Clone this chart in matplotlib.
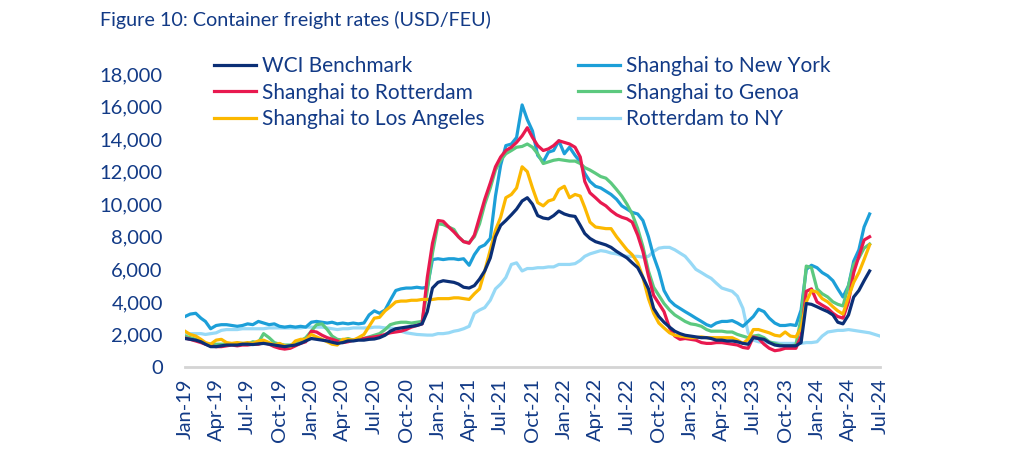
#!/usr/bin/env python3
"""Figure 10: Container freight rates (USD/FEU), semi-monthly readings Jan-19 to Jul-24."""

import matplotlib
matplotlib.use("Agg")
import matplotlib.pyplot as plt
import matplotlib.dates as mdates
import matplotlib.ticker as mticker
import numpy as np
import pandas as pd

plt.rcParams["font.family"] = ["Lato", "DejaVu Sans"]

# semi-monthly grid: 1st and 16th of each month, Jan-2019 .. Jul-2024
dates = []
for d in pd.date_range("2019-01-01", "2024-07-01", freq="MS"):
    dates.append(d)
    dates.append(d + pd.Timedelta(days=15))
dates = pd.DatetimeIndex(dates[:133])

nan = np.nan

wci = [
    1750, 1700, 1650, 1550, 1400, 1250, 1250, 1300, 1350, 1350,
    1350, 1400, 1400, 1380, 1420, 1450, 1400, 1350, 1300, 1250,
    1300, 1350, 1450, 1600, 1750, 1700, 1650, 1600, 1520, 1450,
    1500, 1600, 1600, 1650, 1650, 1700, 1720, 1800, 1950, 2200,
    2350, 2400, 2450, 2500, 2550, 2650, 3400, 4850, 5200, 5300,
    5250, 5200, 5100, 4900, 4850, 5000, 5400, 5900, 6700, 8000,
    8700, 9000, 9350, 9700, 10200, 10400, 10000, 9300, 9150, 9100,
    9300, 9580, 9400, 9300, 9250, 8700, 8200, 7900, 7700, 7600,
    7500, 7350, 7100, 6900, 6700, 6400, 6100, 5500, 4800, 3600,
    3100, 2750, 2450, 2200, 2050, 1950, 1900, 1850, 1800, 1800,
    1750, 1650, 1650, 1600, 1600, 1550, 1450, 1400, 1800, 1750,
    1700, 1500, 1350, 1300, 1300, 1300, 1300, 1500, 3900, 3850,
    3700, 3550, 3400, 3200, 2750, 2650, 3200, 4300, 4700, 5300,
    5900, nan, nan,
]

sh_ny = [
    3100, 3250, 3300, 3000, 2800, 2350, 2550, 2600, 2600, 2550,
    2500, 2550, 2650, 2600, 2800, 2700, 2600, 2650, 2500, 2450,
    2500, 2450, 2500, 2450, 2750, 2800, 2750, 2700, 2750, 2650,
    2700, 2650, 2700, 2650, 2700, 3200, 3450, 3300, 3500, 4100,
    4700, 4800, 4850, 4850, 4900, 4850, 4900, 6600, 6650, 6600,
    6650, 6650, 6600, 6650, 6250, 6900, 7350, 7500, 7900, 10500,
    12400, 13600, 13700, 14100, 16100, 15200, 14500, 13000, 12600, 13200,
    13300, 13900, 13100, 13500, 13000, 12600, 11900, 11400, 11100, 11000,
    10800, 10600, 10300, 9900, 9700, 9500, 9400, 9000, 8000, 6800,
    5900, 4700, 4100, 3800, 3600, 3400, 3200, 3000, 2800, 2600,
    2500, 2700, 2800, 2800, 2850, 2700, 2500, 2800, 3100, 3550,
    3400, 3000, 2700, 2550, 2550, 2600, 2550, 3500, 6000, 6250,
    6100, 5800, 5600, 5300, 4800, 4300, 5000, 6500, 7200, 8600,
    9400, nan, nan,
]

sh_rotterdam = [
    1780, 1700, 1600, 1500, 1400, 1300, 1250, 1250, 1300, 1350,
    1300, 1350, 1350, 1400, 1400, 1500, 1400, 1250, 1150, 1100,
    1150, 1300, 1450, 1550, 2200, 2150, 1950, 1800, 1700, 1600,
    1500, 1550, 1650, 1700, 1750, 1800, 1850, 1900, 2000, 2100,
    2150, 2200, 2300, 2450, 2550, 2650, 5500, 7600, 9000, 8950,
    8600, 8300, 8000, 7700, 7600, 8100, 9200, 10300, 11300, 12300,
    12900, 13300, 13500, 13800, 14200, 14700, 14100, 13600, 13300, 13400,
    13600, 13900, 13800, 13700, 13500, 12900, 11400, 10700, 10400, 10100,
    9900, 9600, 9350, 9200, 9100, 8900, 8100, 7100, 5600, 4400,
    3900, 3400, 2400, 1900, 1700, 1750, 1700, 1650, 1500, 1450,
    1450, 1500, 1500, 1450, 1400, 1350, 1200, 1150, 1850, 1750,
    1400, 1150, 1000, 1050, 1150, 1150, 1150, 1900, 4650, 4800,
    4000, 3800, 3600, 3300, 3100, 3000, 4000, 5800, 6800, 7800,
    8000, nan, nan,
]

sh_genoa = [
    1900, 1800, 1700, 1550, 1450, 1400, 1400, 1400, 1400, 1400,
    1450, 1450, 1400, 1550, 1500, 2050, 1800, 1500, 1400, 1350,
    1350, 1450, 1600, 1800, 2200, 2600, 2650, 2300, 1900, 1700,
    1650, 1750, 1650, 1700, 1750, 1850, 1950, 2050, 2300, 2600,
    2700, 2750, 2750, 2700, 2750, 2800, 4700, 7000, 8800, 8750,
    8600, 8450, 8000, 7700, 7650, 8000, 8800, 10000, 11000, 12100,
    12700, 13100, 13300, 13500, 13550, 13700, 13500, 13100, 12500, 12600,
    12700, 12750, 12700, 12650, 12650, 12500, 12250, 12100, 11900, 11700,
    11600, 11300, 10900, 10500, 10000, 9400, 8500, 7400, 5900, 4900,
    4400, 3900, 3500, 3200, 3000, 2800, 2650, 2600, 2500, 2300,
    2200, 2200, 2200, 2150, 2150, 2000, 1900, 1800, 1900, 1950,
    1800, 1550, 1450, 1350, 1300, 1300, 1350, 3000, 6200, 6100,
    4800, 4500, 4300, 4000, 3850, 3750, 5000, 6300, 6700, 7300,
    7550, nan, nan,
]

sh_la = [
    2200, 2000, 1900, 1700, 1500, 1400, 1650, 1700, 1500, 1450,
    1500, 1450, 1500, 1450, 1600, 1650, 1500, 1350, 1450, 1300,
    1250, 1600, 1700, 1700, 2000, 1850, 1700, 1550, 1400, 1350,
    1700, 1700, 1650, 1800, 2000, 2500, 3000, 3050, 3450, 3700,
    4000, 4050, 4050, 4100, 4100, 4150, 4150, 4150, 4200, 4200,
    4200, 4250, 4250, 4200, 4150, 4500, 4800, 5900, 7200, 8400,
    9200, 10400, 10600, 11000, 12300, 12000, 11000, 10100, 9900, 10200,
    10300, 10900, 11100, 10400, 10600, 10500, 9800, 8900, 8600, 8550,
    8500, 8500, 8000, 7600, 7200, 6900, 6400, 5500, 4200, 3300,
    2700, 2400, 2100, 1950, 1900, 1850, 1800, 1800, 1850, 1800,
    1800, 1800, 1800, 1800, 1800, 1650, 1450, 1700, 2300, 2300,
    2200, 2100, 1950, 1900, 2150, 1900, 1850, 2400, 4000, 4700,
    4600, 4200, 4000, 3700, 3450, 3250, 4300, 5200, 5800, 6600,
    7500, nan, nan,
]

rotterdam_ny = [
    2050, 2050, 2050, 2050, 2000, 2050, 2100, 2250, 2300, 2300,
    2300, 2350, 2350, 2350, 2350, 2350, 2400, 2400, 2400, 2400,
    2400, 2400, 2400, 2450, 2450, 2450, 2450, 2400, 2350, 2300,
    2350, 2350, 2400, 2400, 2400, 2400, 2450, 2450, 2400, 2400,
    2350, 2200, 2100, 2050, 2000, 1980, 1960, 1960, 2050, 2050,
    2100, 2200, 2250, 2350, 2500, 3300, 3500, 3650, 4100, 4800,
    5100, 5500, 6300, 6400, 5900, 6050, 6050, 6100, 6100, 6150,
    6150, 6300, 6300, 6300, 6350, 6550, 6800, 6950, 7050, 7150,
    7100, 7000, 6950, 6850, 6800, 6800, 6800, 6750, 6800, 7100,
    7300, 7350, 7350, 7200, 7000, 6800, 6400, 6000, 5800, 5600,
    5450, 5150, 4850, 4750, 4650, 4350, 3600, 2100, 1650, 1550,
    1500, 1500, 1500, 1450, 1450, 1450, 1450, 1450, 1500, 1500,
    1550, 1900, 2150, 2200, 2250, 2250, 2300, 2250, 2200, 2150,
    2100, 2000, 1900,
]

series = [
    ("Rotterdam to NY", rotterdam_ny, "#97d9f6"),
    ("Shanghai to New York", sh_ny, "#1c9fd8"),
    ("Shanghai to Genoa", sh_genoa, "#5cc97f"),
    ("Shanghai to Rotterdam", sh_rotterdam, "#e8194f"),
    ("Shanghai to Los Angeles", sh_la, "#fcb800"),
    ("WCI Benchmark", wci, "#0b2f76"),
]
legend_order = [
    "WCI Benchmark", "Shanghai to Rotterdam", "Shanghai to Los Angeles",
    "Shanghai to New York", "Shanghai to Genoa", "Rotterdam to NY",
]

TEXT = "#123a86"

fig = plt.figure(figsize=(10.24, 4.54), dpi=100)
ax = fig.add_axes([185 / 1024, 87 / 454, 695 / 1024, 293 / 454])

handles = {}
for name, vals, color in series:
    (ln,) = ax.plot(dates, vals, color=color, linewidth=2.3, label=name)
    handles[name] = ln

ax.set_xlim(pd.Timestamp("2019-01-01"), pd.Timestamp("2024-07-01"))
ax.set_ylim(0, 18000)
ax.yaxis.set_major_locator(mticker.MultipleLocator(2000))
ax.yaxis.set_major_formatter(mticker.FuncFormatter(lambda v, _: f"{v:,.0f}"))
ax.xaxis.set_major_locator(mdates.MonthLocator(bymonth=[1, 4, 7, 10]))
ax.xaxis.set_major_formatter(mdates.DateFormatter("%b-%y"))

for side in ("top", "right", "left"):
    ax.spines[side].set_visible(False)
ax.spines["bottom"].set_color("#d4d4d4")
ax.spines["bottom"].set_linewidth(2)
ax.tick_params(axis="both", length=0, labelsize=14.5, labelcolor=TEXT)
ax.tick_params(axis="y", pad=16)
ax.tick_params(axis="x", pad=8, rotation=90)

fig.text(100 / 1024, 1 - 20 / 454, "Figure 10: Container freight rates (USD/FEU)",
         color=TEXT, fontsize=14.2, va="center", ha="left")

leg = fig.legend(
    [handles[n] for n in legend_order], legend_order,
    loc="upper left", bbox_to_anchor=(214 / 1024, 1 - 56 / 454),
    ncol=2, frameon=False, fontsize=15, handlelength=2.0,
    handletextpad=0.3, columnspacing=4.5, labelspacing=0.32,
    borderaxespad=0, borderpad=0,
)
for t in leg.get_texts():
    t.set_color(TEXT)

fig.savefig("out.png", dpi=100)
